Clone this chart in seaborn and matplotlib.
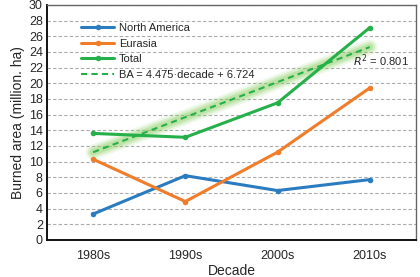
import numpy as np
import pandas as pd
import matplotlib
matplotlib.use('Agg')
import matplotlib.pyplot as plt
import seaborn as sns

# Data
decades = ['1980s', '1990s', '2000s', '2010s']
north_america = [3.3, 8.2, 6.3, 7.7]
eurasia = [10.3, 4.9, 11.2, 19.4]
total = [13.6, 13.1, 17.5, 27.1]
slope, intercept, r2 = 4.475, 6.724, 0.801

blue = '#2a7bbf'
orange = '#f07d2a'
green = '#26b04a'

df = pd.DataFrame({
    'Decade': decades * 3,
    'x': list(range(4)) * 3,
    'BA': north_america + eurasia + total,
    'Region': ['North America'] * 4 + ['Eurasia'] * 4 + ['Total'] * 4,
})

sns.set_style('white')
plt.rcParams['font.family'] = ['Liberation Sans', 'DejaVu Sans']

fig = plt.figure(figsize=(4.2, 2.77), dpi=100)
ax = fig.add_axes([0.112, 0.134, 0.878, 0.848])

# trend line with glow
xs = np.arange(4)
trend = slope * (xs + 1) + intercept
for lw, a in [(11, 0.15), (8, 0.25), (5, 0.35)]:
    ax.plot(xs, trend, color='#8fd16a', lw=lw, alpha=a, solid_capstyle='round', zorder=2)

sns.lineplot(data=df, x='x', y='BA', hue='Region', marker='o', markersize=4,
             markeredgewidth=0, linewidth=2.2,
             palette={'North America': blue, 'Eurasia': orange, 'Total': green},
             ax=ax, zorder=3)
ax.plot(xs, trend, color=green, lw=1.5, ls=(0, (3, 2)), zorder=4,
        label='BA = 4.475\u00b7decade + 6.724')

ax.set_xlim(-0.5, 3.5)
ax.set_ylim(0, 30)
ax.set_yticks(range(0, 31, 2))
ax.set_xticks(range(4))
ax.set_xticklabels(decades)
ax.set_xticks([0.5, 1.5, 2.5], minor=True)
ax.tick_params(axis='x', which='major', length=0, labelsize=9, pad=7)
ax.tick_params(axis='x', which='minor', length=4, width=1, color='#444444', direction='out')
ax.tick_params(axis='y', labelsize=9, length=0, pad=3)
ax.yaxis.grid(True, ls=(0, (3, 2)), color='#aaaaaa', lw=0.8)
ax.set_axisbelow(True)
for s in ['left', 'bottom']:
    ax.spines[s].set_color('#111111')
    ax.spines[s].set_linewidth(1.4)
for s in ['top', 'right']:
    ax.spines[s].set_color('#666666')
    ax.spines[s].set_linewidth(1.0)

ax.set_xlabel('Decade', fontsize=10, labelpad=2)
ax.set_ylabel('Burned area (million. ha)', fontsize=10, labelpad=3)

ax.text(3.42, 22.9, '$R^2$ = 0.801', ha='right', va='center', fontsize=8)

leg = ax.legend(loc='upper left', bbox_to_anchor=(0.065, 0.965), frameon=False,
                fontsize=8, handlelength=3.0, handletextpad=0.4, labelspacing=0.5)

fig.savefig('out.png', dpi=100)
